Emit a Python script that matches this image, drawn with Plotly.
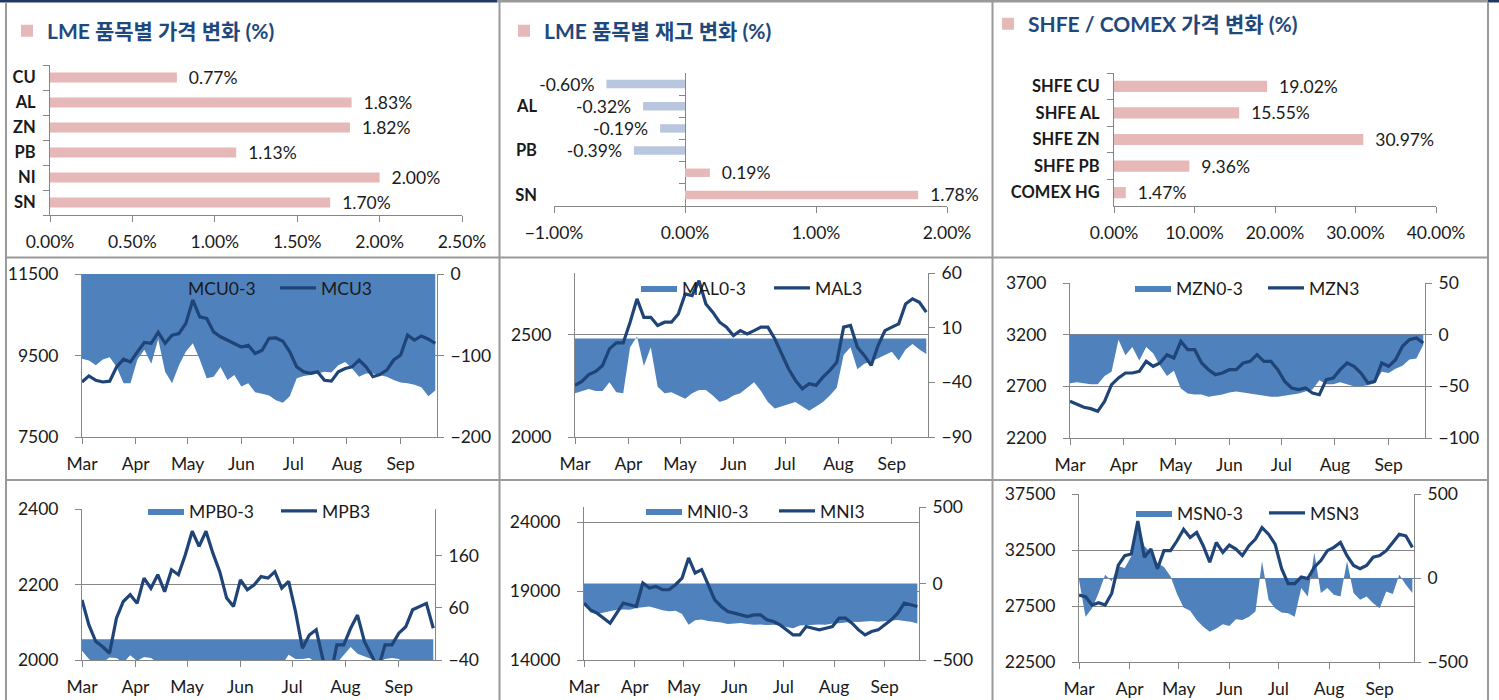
import pandas as pd
import plotly.graph_objects as go

W, H = 1499, 700

# ---------------- data ----------------
lme_price_cats = ["CU", "AL", "ZN", "PB", "NI", "SN"]
lme_price_vals = [0.77, 1.83, 1.82, 1.13, 2.00, 1.70]

lme_stock_cats = ["CU", "AL", "ZN", "PB", "NI", "SN"]
lme_stock_vals = [-0.60, -0.32, -0.19, -0.39, 0.19, 1.78]
lme_stock_shown = ["AL", "PB", "SN"]

shfe_cats = ["SHFE CU", "SHFE AL", "SHFE ZN", "SHFE PB", "COMEX HG"]
shfe_vals = [19.02, 15.55, 30.97, 9.36, 1.47]

dates = pd.date_range("2011-03-01", periods=52, freq="4D")
month_ticks = ["2011-03-01", "2011-04-01", "2011-05-01", "2011-06-01",
               "2011-07-01", "2011-08-01", "2011-09-01"]
month_labels = ["Mar", "Apr", "May", "Jun", "Jul", "Aug", "Sep"]

mcu3 = [8850, 9000, 8890, 8850, 8870, 9220, 9410, 9340, 9590, 9820, 9800, 10070, 9800,
        10000, 10040, 10290, 10860, 10450, 10410, 10080, 9960, 9880, 9800, 9710, 9750,
        9550, 9630, 9920, 9930, 9850, 9590, 9220, 9100, 9060, 9100, 8890, 8870, 9100,
        9180, 9220, 9390, 9220, 8980, 9030, 9140, 9390, 9510, 10000, 9880, 9980, 9900, 9800]
mcu03 = [-104, -106, -112, -105, -102, -114, -134, -134, -105, -93, -110, -80, -120, -134,
         -112, -95, -85, -105, -128, -126, -114, -130, -124, -138, -134, -145, -147, -149,
         -155, -158, -150, -128, -125, -124, -122, -120, -121, -112, -108, -116, -126, -122,
         -122, -124, -126, -130, -133, -134, -136, -139, -150, -143]

mal3 = [2252, 2271, 2304, 2320, 2349, 2430, 2459, 2459, 2560, 2674, 2584, 2584, 2544, 2560,
        2560, 2600, 2698, 2690, 2763, 2649, 2609, 2560, 2536, 2495, 2519, 2503, 2519, 2536,
        2536, 2479, 2406, 2333, 2276, 2235, 2260, 2252, 2292, 2325, 2365, 2536, 2544, 2438,
        2398, 2349, 2446, 2519, 2536, 2552, 2649, 2674, 2657, 2609]
mal03 = [-50, -48, -46, -48, -48, -40, -49, -50, -8, 2, -25, -8, -44, -50, -49, -52, -55, -50,
         -47, -47, -52, -58, -56, -52, -50, -45, -40, -48, -58, -64, -62, -60, -58, -62, -66,
         -62, -58, -52, -45, -15, -8, -28, -23, -21, -18, -15, -12, -20, -10, -5, -10, -14]

mzn3 = [2555, 2523, 2497, 2484, 2458, 2555, 2716, 2781, 2829, 2829, 2845, 2942, 2894, 2926,
        3006, 2974, 3135, 3055, 3055, 2926, 2861, 2813, 2829, 2861, 2861, 2926, 2942, 3006,
        2942, 2942, 2861, 2748, 2684, 2668, 2684, 2635, 2619, 2765, 2781, 2861, 2926, 2894,
        2829, 2732, 2748, 2926, 2894, 2958, 3087, 3152, 3168, 3119]
mzn03 = [-47, -46, -47, -48, -48, -40, -36, -5, -20, -12, -25, -12, -18, -30, -40, -35, -52,
         -57, -58, -58, -60, -59, -58, -56, -55, -56, -57, -58, -59, -60, -60, -59, -58, -57,
         -55, -53, -44, -48, -48, -46, -48, -50, -50, -49, -47, -36, -37, -33, -30, -24, -23, -10]

mpb3 = [2159, 2093, 2049, 2035, 2018, 2111, 2155, 2173, 2150, 2217, 2190, 2226, 2181, 2239,
        2226, 2279, 2341, 2301, 2341, 2283, 2234, 2164, 2142, 2212, 2186, 2199, 2221, 2217,
        2234, 2190, 2208, 2128, 2031, 2066, 2080, 2000, 1951, 2040, 2040, 2084, 2119, 2049,
        2013, 1978, 2040, 2040, 2071, 2088, 2133, 2142, 2150, 2084]
mpb03 = [-22, -38, -48, -45, -35, -36, -45, -31, -42, -34, -36, -45, -48, -50, -52, -49, -55,
         -50, -53, -51, -55, -50, -52, -54, -50, -53, -55, -51, -54, -50, -30, -38, -38, -36,
         -45, -48, -50, -46, -30, -15, -28, -33, -38, -45, -38, -36, -38, -50, -52, -50, -53, -50]

mni3 = [18126, 17640, 17398, 17034, 16670, 17398, 18126, 18005, 17883, 19583, 19218, 19340,
        19097, 19097, 19461, 19947, 21403, 20310, 20553, 19461, 18369, 17883, 17519, 17398,
        17277, 17155, 17277, 17277, 16913, 16791, 16549, 16184, 15820, 15820, 16427, 16306,
        16184, 16306, 16427, 17034, 17034, 16670, 16184, 15820, 16063, 16184, 16549, 16913,
        17398, 18126, 18005, 17883]
mni03 = [-129, -190, -200, -190, -180, -172, -170, -172, -160, -155, -150, -162, -175, -182,
         -178, -200, -270, -240, -235, -245, -250, -255, -265, -262, -258, -265, -270, -268,
         -272, -270, -275, -285, -292, -275, -272, -270, -268, -270, -262, -260, -255, -250,
         -252, -248, -245, -250, -245, -240, -238, -245, -250, -262]

msn3 = [28470, 28324, 27588, 27794, 27588, 28618, 31118, 32000, 32147, 35088, 31853, 32588,
        30824, 32441, 32441, 33324, 34353, 33618, 34059, 32882, 31412, 33176, 32294, 32941,
        32588, 32000, 32882, 33470, 34500, 33912, 33029, 30824, 29500, 29500, 30088, 29941,
        30971, 31559, 32441, 32735, 33176, 32000, 31118, 30824, 31118, 31853, 32000, 32441,
        33176, 33912, 33765, 32735]
msn03 = [-10, -231, -180, -90, 20, -20, 70, 60, 130, 330, 190, 150, 90, 65, 10, -95, -175, -195,
         -250, -290, -320, -300, -275, -285, -245, -250, -230, -200, 100, -130, -180, -205, -210,
         -230, -60, -110, 150, -90, -60, -100, -110, 100, -90, -130, -110, -150, -180, -80, -95,
         20, -40, -90]

# ---------------- style ----------------
FONT = "Lato, Noto Sans CJK KR, sans-serif"
AX = "#868686"
TXT = "#1a1a1a"
PINK = "#E6B9B8"
NEG = "#B9C7DE"
BLUE = "#4F81BD"
NAVY = "#1F4478"
TITLE = "#1F497D"
BORDER = "#9a9a9a"
FS = 17.5


def px_x(a, b):
    return [a / W, b / W]


def px_y(top, bottom):
    return [1 - bottom / H, 1 - top / H]


def fmt_label(v):
    s = f"{v:.2f}%"
    return ("\u00a0\u00a0" + s) if v >= 0 else (s + "\u00a0\u00a0")


fig = go.Figure()
layout = dict(width=W, height=H,
              margin=dict(l=0, r=0, t=0, b=0, pad=0, autoexpand=False),
              paper_bgcolor="white", plot_bgcolor="rgba(0,0,0,0)",
              barmode="overlay", showlegend=True, hovermode=False,
              font=dict(family=FONT, size=FS, color=TXT))

# ---------------- top bar panels ----------------
top_panels = [
    dict(cats=lme_price_cats, vals=lme_price_vals, name="LME 품목별 가격 변화 (%)",
         xd=(50, 462), yd=(65, 215), xr=[0, 2.5], dt=0.5, width=0.4,
         shown=None, yline=True, leg=(52, 31)),
    dict(cats=lme_stock_cats, vals=lme_stock_vals, name="LME 품목별 재고 변화 (%)",
         xd=(554, 947), yd=(73, 206), xr=[-1, 2], dt=1, width=0.38,
         shown=lme_stock_shown, yline=False, leg=(549, 31)),
    dict(cats=shfe_cats, vals=shfe_vals, name="SHFE / COMEX 가격 변화 (%)",
         xd=(1114, 1436), yd=(73, 206), xr=[0, 40], dt=10, width=0.42,
         shown=None, yline=True, leg=(1033, 24)),
]

for i, p in enumerate(top_panels):
    n = i + 1
    sfx = "" if n == 1 else str(n)
    cats_r = p["cats"][::-1]
    vals_r = p["vals"][::-1]
    fig.add_trace(go.Bar(
        y=cats_r, x=vals_r, orientation="h", width=p["width"],
        marker=dict(color=[PINK if v >= 0 else NEG for v in vals_r], line=dict(width=0)),
        text=[fmt_label(v) for v in vals_r], textposition="outside",
        constraintext="none", cliponaxis=False,
        textfont=dict(size=FS, color=TXT, family=FONT),
        name=p["name"], xaxis="x" + sfx, yaxis="y" + sfx,
        legend=f"legend{n + 6}", showlegend=True))
    layout["xaxis" + sfx] = dict(
        domain=px_x(*p["xd"]), anchor="y" + sfx, range=p["xr"], dtick=p["dt"], tick0=0,
        tickformat=".2f", ticksuffix="%", showline=True, linecolor=AX, linewidth=1,
        ticks="outside", ticklen=6, tickcolor=AX, showgrid=False, automargin=False,
        zeroline=(n == 2), zerolinecolor=AX, zerolinewidth=1, ticklabelstandoff=5,
        tickfont=dict(size=FS, color=TXT), fixedrange=True)
    ya = dict(domain=px_y(*p["yd"]), anchor="x" + sfx, type="category",
              showgrid=False, zeroline=False, fixedrange=True, automargin=False,
              tickfont=dict(size=16.5, color=TXT, weight="bold"))
    if p["yline"]:
        ya.update(showline=True, linecolor=AX, linewidth=1, ticks="outside",
                  tickson="boundaries", ticklen=6, tickcolor=AX, ticklabelstandoff=10)
    else:
        ya.update(showline=False, ticks="", tickvals=p["shown"], ticktext=p["shown"],
                  ticklabelstandoff=16)
    layout["yaxis" + sfx] = ya
    lx, ly = p["leg"]
    layout[f"legend{n + 6}"] = dict(
        x=(lx - 45) / W, y=1 - ly / H, xanchor="left", yanchor="middle",
        bgcolor="rgba(0,0,0,0)", borderwidth=0,
        font=dict(size=21, color=TITLE, family=FONT, weight="bold"))

# category-boundary tick marks on the zero line of the stock-change panel
x2_dom = px_x(*top_panels[1]["xd"])
x2_rng = top_panels[1]["xr"]
zero_pos = x2_dom[0] + (0 - x2_rng[0]) / (x2_rng[1] - x2_rng[0]) * (x2_dom[1] - x2_dom[0])
n_cat2 = len(lme_stock_cats)
fig.add_trace(go.Scatter(x=[None], y=[None], xaxis="x2", yaxis="y16",
                         showlegend=False, hoverinfo="skip"))
layout["yaxis16"] = dict(
    overlaying="y2", anchor="free", position=zero_pos, side="left",
    range=[n_cat2 - 0.5, -0.5], tickvals=[k + 0.5 for k in range(n_cat2 - 1)],
    showticklabels=False, ticks="outside", ticklen=6, tickcolor=AX,
    showline=False, showgrid=False, zeroline=False, fixedrange=True, automargin=False)

# ---------------- time-series panels ----------------
ts_panels = [
    dict(area=mcu03, line=mcu3, an="MCU0-3", ln="MCU3", xd=(82, 437), yd=(274, 437),
         lr=[7500, 11500], lt=[7500, 9500, 11500], rr=[-200, 0], rt=[-200, -100, 0],
         leg=(189, 288), zl=False),
    dict(area=mal03, line=mal3, an="MAL0-3", ln="MAL3", xd=(575, 928), yd=(273, 437),
         lr=[2000, 2800], lt=[2000, 2500], rr=[-90, 60], rt=[-90, -40, 10, 60],
         leg=(683, 288), zl=False),
    dict(area=mzn03, line=mzn3, an="MZN0-3", ln="MZN3", xd=(1070, 1425), yd=(283, 438),
         lr=[2200, 3700], lt=[2200, 2700, 3200, 3700], rr=[-100, 50], rt=[-100, -50, 0, 50],
         leg=(1177, 288), zl=False),
    dict(area=mpb03, line=mpb3, an="MPB0-3", ln="MPB3", xd=(82, 435), yd=(509, 660),
         lr=[2000, 2400], lt=[2000, 2200, 2400], rr=[-40, 250], rt=[-40, 60, 160],
         leg=(190, 511), zl=False),
    dict(area=mni03, line=mni3, an="MNI0-3", ln="MNI3", xd=(584, 919), yd=(507, 660),
         lr=[14000, 25100], lt=[14000, 19000, 24000], rr=[-500, 500], rt=[-500, 0, 500],
         leg=(688, 511), zl=False),
    dict(area=msn03, line=msn3, an="MSN0-3", ln="MSN3", xd=(1079, 1414), yd=(494, 662),
         lr=[22500, 37500], lt=[22500, 27500, 32500, 37500], rr=[-500, 500], rt=[-500, 0, 500],
         leg=(1178, 513), zl=True),
]

for k, p in enumerate(ts_panels):
    xi = k + 4
    ya_i = 2 * xi - 4
    yl_i = 2 * xi - 3
    leg_name = "legend" if k == 0 else f"legend{k + 1}"
    fig.add_trace(go.Scatter(
        x=dates, y=p["area"], mode="lines", fill="tozeroy", fillcolor=BLUE,
        line=dict(width=0, color=BLUE), name=p["an"],
        xaxis=f"x{xi}", yaxis=f"y{ya_i}", legend=leg_name))
    fig.add_trace(go.Scatter(
        x=dates, y=p["line"], mode="lines", line=dict(width=3.2, color=NAVY),
        name=p["ln"], xaxis=f"x{xi}", yaxis=f"y{yl_i}", legend=leg_name))
    layout[f"xaxis{xi}"] = dict(
        domain=px_x(*p["xd"]), anchor=f"y{ya_i}", type="date",
        range=["2011-03-01", "2011-09-22"], tickvals=month_ticks, ticktext=month_labels,
        ticks="outside", ticklen=6, tickcolor=AX, showline=True, linecolor=AX,
        showgrid=False, zeroline=False, ticklabelstandoff=5, automargin=False,
        tickfont=dict(size=FS, color=TXT), fixedrange=True)
    layout[f"yaxis{ya_i}"] = dict(
        domain=px_y(*p["yd"]), anchor=f"x{xi}", side="right", range=p["rr"],
        tickvals=p["rt"], tickformat="d", showline=True, linecolor=AX, ticks="outside",
        ticklen=6, tickcolor=AX, showgrid=False, zeroline=p["zl"], zerolinecolor=AX,
        zerolinewidth=1, ticklabelstandoff=3, tickfont=dict(size=FS, color=TXT),
        fixedrange=True, automargin=False)
    layout[f"yaxis{yl_i}"] = dict(
        overlaying=f"y{ya_i}", anchor=f"x{xi}", side="left", range=p["lr"],
        tickvals=p["lt"], tickformat="d", showline=True, linecolor=AX, ticks="outside",
        ticklen=6, tickcolor=AX, showgrid=True, gridcolor=AX, gridwidth=1, zeroline=False,
        ticklabelstandoff=13, tickfont=dict(size=FS, color=TXT), fixedrange=True,
        automargin=False)
    lx, ly = p["leg"]
    layout[leg_name] = dict(
        x=(lx - 47) / W, y=1 - ly / H, xanchor="left", yanchor="middle",
        orientation="h", bgcolor="rgba(0,0,0,0)", borderwidth=0, itemwidth=36,
        entrywidth=82, font=dict(size=FS, color=TXT, family=FONT), tracegroupgap=0)

# ---------------- panel frames ----------------
def hline(x0, x1, y, color=BORDER, w=2):
    return dict(type="line", xref="paper", yref="paper", x0=x0 / W, x1=x1 / W,
                y0=1 - y / H, y1=1 - y / H, line=dict(color=color, width=w))


def vline(x, y0, y1, color=BORDER, w=2):
    return dict(type="line", xref="paper", yref="paper", x0=x / W, x1=x / W,
                y0=1 - y0 / H, y1=1 - y1 / H, line=dict(color=color, width=w))


shapes = [
    hline(0, 497, 1, "#1F3864", 3), hline(497, 1488, 1, BORDER, 3), hline(1488, 1499, 1, "#1F3864", 3),
    vline(6, 2, 700), vline(499.5, 2, 700), vline(992.5, 2, 700), vline(1488, 2, 700),
    hline(6, 1488, 257.5), hline(6, 1488, 480),
]
layout["shapes"] = shapes

fig.update_layout(**layout)
fig.write_html("out.html", config={"displayModeBar": False},
               post_script="document.body.style.margin='0';")
